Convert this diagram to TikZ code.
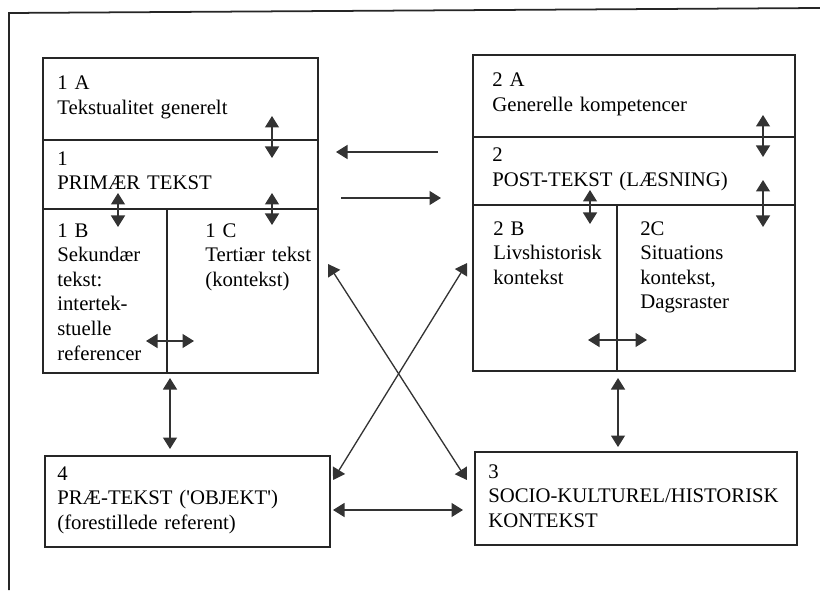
\documentclass[tikz,border=0pt]{standalone}
\usepackage{fontspec}
\setmainfont{Liberation Serif}
\usetikzlibrary{positioning,arrows.meta}

\begin{document}
\begin{tikzpicture}[%
    x=0.2mm,
    y=-0.2mm,
    >={Triangle[length=2.3mm,width=2.8mm]},
    cell/.style={%
      draw=black!85,
      line width=0.85pt,
      rectangle,
      anchor=north west,
      inner sep=0pt,
      outer sep=0pt
    },
    txt/.style={%
      anchor=base west,
      align=left,
      inner sep=0pt,
      text width=65mm,
      font=\fontsize{11.8}{14}\selectfont
    },
    dbl/.style={<->,draw=black!80,line width=0.75pt},
    one/.style={->,draw=black!80,line width=0.75pt}
  ]
    \useasboundingbox (0,0) rectangle (820,590);

    % frame of the page
    \coordinate (tl) at (9,13);
    \coordinate (tr) at (820,8);
    \coordinate (bl) at (9,590);
    \draw[black!85,line width=1pt] (tr) -- (tl) -- (bl);

    % left block
    \node[cell,minimum width=55mm,minimum height=16.4mm] (c1a) at (43,58) {};
    \node[cell,minimum width=55mm,minimum height=13.8mm] (c1) at (c1a.south west) {};
    \node[cell,minimum width=24.8mm,minimum height=32.8mm] (c1b) at (c1.south west) {};
    \node[cell,minimum width=30.2mm,minimum height=32.8mm] (c1c) at (c1b.north east) {};

    % right block
    \node[cell,minimum width=64.4mm,minimum height=16.4mm] (c2a) at (473,55) {};
    \node[cell,minimum width=64.4mm,minimum height=13.6mm] (c2) at (c2a.south west) {};
    \node[cell,minimum width=28.8mm,minimum height=33.2mm] (c2b) at (c2.south west) {};
    \node[cell,minimum width=35.6mm,minimum height=33.2mm] (c2c) at (c2b.north east) {};

    % bottom boxes
    \node[cell,minimum width=57mm,minimum height=18.2mm] (b4) at (45,456) {};
    \node[cell,minimum width=64.4mm,minimum height=18.6mm] (b3) at (475,452) {};

    % texts
    \node[txt] (t1a) at ([shift={(14,32)}]c1a.north west) {1 A\\Tekstualitet generelt};
    \node[txt] (t1) at ([shift={(14,25)}]c1.north west) {1\\PRIMÆR TEKST};
    \node[txt] (t1b) at ([shift={(14,28)}]c1b.north west) {1 B\\Sekundær\\tekst:\\intertek-\\stuelle\\referencer};
    \node[txt] (t1c) at ([shift={(38,28)}]c1c.north west) {1 C\\Tertiær tekst\\(kontekst)};
    \node[txt] (t2a) at ([shift={(19,32)}]c2a.north west) {2 A\\Generelle kompetencer};
    \node[txt] (t2) at ([shift={(19,25)}]c2.north west) {2\\POST-TEKST (LÆSNING)};
    \node[txt] (t2b) at ([shift={(20,30)}]c2b.north west) {2 B\\Livshistorisk\\kontekst};
    \node[txt] (t2c) at ([shift={(23,30)}]c2c.north west) {2C\\Situations\\kontekst,\\Dagsraster};
    \node[txt] (t4) at ([shift={(12,24)}]b4.north west) {4\\PRÆ-TEKST (\textquotesingle OBJEKT\textquotesingle)\\(forestillede referent)};
    \node[txt] (t3) at ([shift={(13,26)}]b3.north west) {3\\SOCIO-KULTUREL/HISTORISK\\KONTEKST};

    % arrow ends
    \coordinate (u1a) at (272,116);
    \coordinate (d1a) at (272,158);
    \coordinate (u1b) at (118,193);
    \coordinate (d1b) at (118,227);
    \coordinate (u1c) at (272,193);
    \coordinate (d1c) at (272,225);
    \coordinate (l1b) at (146,341);
    \coordinate (r1b) at (194,341);
    \coordinate (u2a) at (763,115);
    \coordinate (d2a) at (763,157);
    \coordinate (u2b) at (590,190);
    \coordinate (d2b) at (590,224);
    \coordinate (u2c) at (763,180);
    \coordinate (d2c) at (763,227);
    \coordinate (l2b) at (588,340);
    \coordinate (r2b) at (647,340);
    \coordinate (back0) at (438,152);
    \coordinate (back1) at (336,152);
    \coordinate (fwd0) at (341,198);
    \coordinate (fwd1) at (441,198);
    \coordinate (xa0) at (328,264);
    \coordinate (xa1) at (467,480);
    \coordinate (xb0) at (467,263);
    \coordinate (xb1) at (333,480);
    \coordinate (h4) at (333,510);
    \coordinate (h3) at (463,510);

    \path (u1a) edge[dbl] (d1a)
          (u1b) edge[dbl] (d1b)
          (u1c) edge[dbl] (d1c)
          (l1b) edge[dbl] (r1b)
          (u2a) edge[dbl] (d2a)
          (u2b) edge[dbl] (d2b)
          (u2c) edge[dbl] (d2c)
          (l2b) edge[dbl] (r2b)
          (back0) edge[one] (back1)
          (fwd0) edge[one] (fwd1)
          (xa0) edge[dbl] (xa1)
          (xb0) edge[dbl] (xb1)
          (h4) edge[dbl] (h3);

    \path ([xshift=0.6mm,yshift=-1mm]c1b.south east) edge[dbl] ([xshift=0.6mm,yshift=1.4mm]b4.north -| c1b.south east)
          ([xshift=0.2mm,yshift=-1.4mm]c2b.south east) edge[dbl] ([xshift=0.2mm,yshift=1mm]b3.north -| c2b.south east);
  \end{tikzpicture}
\end{document}
